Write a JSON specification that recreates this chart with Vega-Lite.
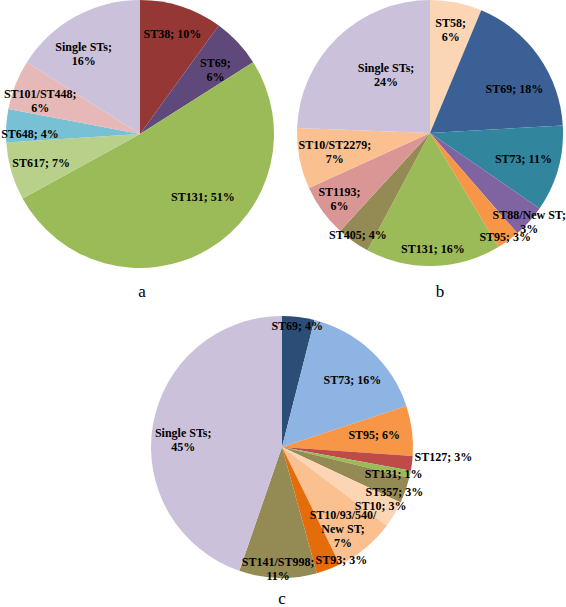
{
  "$schema": "https://vega.github.io/schema/vega-lite/v6.json",
  "padding": 0,
  "background": "white",
  "config": {"view": {"stroke": null}},
  "datasets": {
    "a": [
      {"i": 1, "st": "ST38", "v": 10, "label": "ST38; 10%"},
      {"i": 2, "st": "ST69", "v": 6, "label": "ST69;\n6%"},
      {"i": 3, "st": "ST131", "v": 51, "label": "ST131; 51%"},
      {"i": 4, "st": "ST617", "v": 7, "label": "ST617; 7%"},
      {"i": 5, "st": "ST648", "v": 4, "label": "ST648; 4%"},
      {"i": 6, "st": "ST101/ST448", "v": 6, "label": "ST101/ST448;\n6%"},
      {"i": 7, "st": "Single STs", "v": 16, "label": "Single STs;\n16%"}
    ],
    "b": [
      {"i": 1, "st": "ST58", "v": 6.3, "label": "ST58;\n6%"},
      {"i": 2, "st": "ST69", "v": 17.8, "label": "ST69; 18%"},
      {"i": 3, "st": "ST73", "v": 10.5, "label": "ST73; 11%"},
      {"i": 4, "st": "ST88/New ST", "v": 4, "label": "ST88/New ST;\n3%"},
      {"i": 5, "st": "ST95", "v": 2.8, "label": "ST95; 3%"},
      {"i": 6, "st": "ST131", "v": 16.4, "label": "ST131; 16%"},
      {"i": 7, "st": "ST405", "v": 4, "label": "ST405; 4%"},
      {"i": 8, "st": "ST1193", "v": 6.4, "label": "ST1193;\n6%"},
      {"i": 9, "st": "ST10/ST2279", "v": 7.4, "label": "ST10/ST2279;\n7%"},
      {"i": 10, "st": "Single STs", "v": 24.4, "label": "Single STs;\n24%"}
    ],
    "c": [
      {"i": 1, "st": "ST69", "v": 4, "label": "ST69; 4%"},
      {"i": 2, "st": "ST73", "v": 16, "label": "ST73; 16%"},
      {"i": 3, "st": "ST95", "v": 6.2, "label": "ST95; 6%"},
      {"i": 4, "st": "ST127", "v": 1.8, "label": "ST127; 3%"},
      {"i": 5, "st": "ST131", "v": 0.9, "label": "ST131; 1%"},
      {"i": 6, "st": "ST357", "v": 3.2, "label": "ST357; 3%"},
      {"i": 7, "st": "ST10", "v": 3.3, "label": "ST10; 3%"},
      {"i": 8, "st": "ST10/93/540/New ST", "v": 7.5, "label": "ST10/93/540/\nNew ST;\n7%"},
      {"i": 9, "st": "ST93", "v": 3, "label": "ST93; 3%"},
      {"i": 10, "st": "ST141/ST998", "v": 9.6, "label": "ST141/ST998;\n11%"},
      {"i": 11, "st": "Single STs", "v": 44.9, "label": "Single STs;\n45%"}
    ]
  },
  "resolve": {"scale": {"color": "independent", "theta": "independent"}},
  "spacing": 16,
  "vconcat": [
    {
      "resolve": {"scale": {"color": "independent", "theta": "independent"}},
      "spacing": 16,
      "hconcat": [
        {
          "width": 280,
          "height": 268,
          "data": {"name": "a"},
          "title": {"text": "a", "orient": "bottom", "frame": "group", "anchor": "middle", "font": "Liberation Serif", "fontSize": 17, "fontWeight": "normal", "baseline": "alphabetic", "offset": 29, "dx": 2},
          "encoding": {
            "theta": {"field": "v", "type": "quantitative", "stack": true},
            "order": {"field": "i", "type": "quantitative"}
          },
          "layer": [
            {
              "mark": {"type": "arc"},
              "encoding": {
                "color": {"field": "st", "type": "nominal", "legend": null,
                  "scale": {"domain": ["ST38", "ST69", "ST131", "ST617", "ST648", "ST101/ST448", "Single STs"],
                            "range": ["#953735", "#5F497A", "#9BBB59", "#B9D08B", "#78C0D4", "#E6B9B8", "#CCC1DA"]}}
              }
            },
            {
              "mark": {"type": "text", "font": "Liberation Serif", "fontWeight": "bold", "fontSize": 12, "lineHeight": 14, "lineBreak": "\n", "color": "black",
                "radius": {"expr": "[105,99,89,103,110,105,98][datum.i-1]"},
                "thetaOffset": {"expr": "[0,0.05,-0.25,0,-0.06,-0.06,-0.11][datum.i-1]"},
                "dy": {"expr": "-7*(length(split(datum.label, '\\n'))-1)"}},
              "encoding": {"text": {"field": "label", "type": "nominal"}}
            }
          ]
        },
        {
          "width": 268,
          "height": 266,
          "data": {"name": "b"},
          "title": {"text": "b", "orient": "bottom", "frame": "group", "anchor": "middle", "font": "Liberation Serif", "fontSize": 17, "fontWeight": "normal", "baseline": "alphabetic", "offset": 31, "dx": 10},
          "encoding": {
            "theta": {"field": "v", "type": "quantitative", "stack": true},
            "order": {"field": "i", "type": "quantitative"}
          },
          "layer": [
            {
              "mark": {"type": "arc"},
              "encoding": {
                "color": {"field": "st", "type": "nominal", "legend": null,
                  "scale": {"domain": ["ST58", "ST69", "ST73", "ST88/New ST", "ST95", "ST131", "ST405", "ST1193", "ST10/ST2279", "Single STs"],
                            "range": ["#FCD5B5", "#3A6096", "#31859C", "#8064A2", "#F79646", "#9BBB59", "#948A54", "#D99694", "#FAC090", "#CCC1DA"]}}
              }
            },
            {
              "mark": {"type": "text", "font": "Liberation Serif", "fontWeight": "bold", "fontSize": 12, "lineHeight": 14, "lineBreak": "\n", "color": "black",
                "radius": {"expr": "[105,95,97,133,128,116,125,112,97,73][datum.i-1]"},
                "thetaOffset": {"expr": "[0,0.14,0,0,0,0,0,0,0,0.12][datum.i-1]"},
                "dy": {"expr": "-7*(length(split(datum.label, '\\n'))-1)"}},
              "encoding": {"text": {"field": "label", "type": "nominal"}}
            }
          ]
        }
      ]
    },
    {
      "width": 564,
      "height": 262,
      "data": {"name": "c"},
      "title": {"text": "c", "orient": "bottom", "frame": "group", "anchor": "middle", "font": "Liberation Serif", "fontSize": 17, "fontWeight": "normal", "baseline": "alphabetic", "offset": 22},
      "encoding": {
        "theta": {"field": "v", "type": "quantitative", "stack": true},
        "order": {"field": "i", "type": "quantitative"}
      },
      "layer": [
        {
          "mark": {"type": "arc"},
          "encoding": {
            "color": {"field": "st", "type": "nominal", "legend": null,
              "scale": {"domain": ["ST69", "ST73", "ST95", "ST127", "ST131", "ST357", "ST10", "ST10/93/540/New ST", "ST93", "ST141/ST998", "Single STs"],
                        "range": ["#2C4D75", "#8EB4E3", "#F79646", "#BE4B48", "#9BBB59", "#948A54", "#FCD5B5", "#FAC090", "#E46C0A", "#948A54", "#CCC1DA"]}}
          }
        },
        {
          "mark": {"type": "text", "font": "Liberation Serif", "fontWeight": "bold", "fontSize": 12, "lineHeight": 14, "lineBreak": "\n", "color": "black",
            "align": {"expr": "datum.i == 4 ? 'left' : 'center'"},
            "radius": {"expr": "[122,97,93,133,115,121,115,102,128,122,99][datum.i-1]"},
            "thetaOffset": {"expr": "[0,0.06,0,-0.05,0.03,0.04,0,0.05,-0.12,0,-0.10][datum.i-1]"},
            "dy": {"expr": "-7*(length(split(datum.label, '\\n'))-1)"}},
          "encoding": {"text": {"field": "label", "type": "nominal"}}
        }
      ]
    }
  ]
}
